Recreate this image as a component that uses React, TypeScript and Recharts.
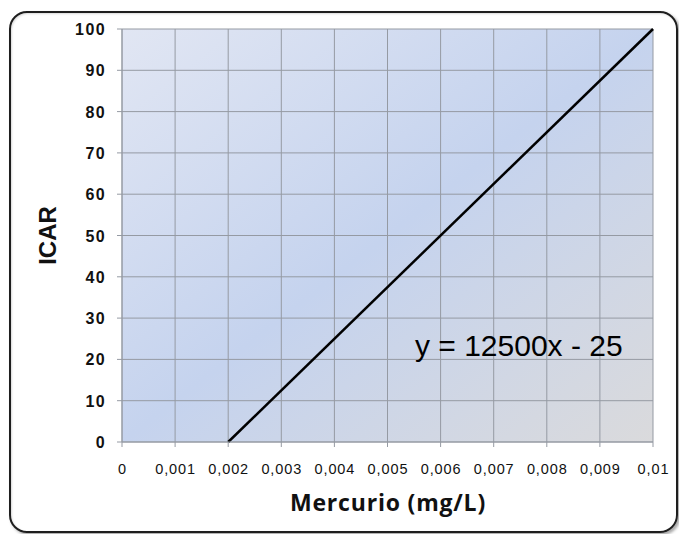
import React from 'react';
import { LineChart, Line, XAxis, YAxis, CartesianGrid } from 'recharts';

const xValues = [0.002, 0.01];
const yValues = [0, 100];
const xTicks = [0, 0.001, 0.002, 0.003, 0.004, 0.005, 0.006, 0.007, 0.008, 0.009, 0.01];
const xTickLabels = ['0', '0,001', '0,002', '0,003', '0,004', '0,005', '0,006', '0,007', '0,008', '0,009', '0,01'];
const yTicks = [0, 10, 20, 30, 40, 50, 60, 70, 80, 90, 100];
const equation = 'y = 12500x - 25';
const xTitle = 'Mercurio (mg/L)';
const yTitle = 'ICAR';

const data = xValues.map((x, i) => ({ x, y: yValues[i] }));

const fmtX = (v: number) => {
  const i = xTicks.findIndex((t) => Math.abs(t - v) < 1e-9);
  return i >= 0 ? xTickLabels[i] : String(v);
};

const XTick = (props: any) => {
  const { x, y, payload } = props;
  return (
    <text x={x + 0.5} y={y + 25} textAnchor="middle" fontSize={14.5} letterSpacing={0.9} fontFamily="Liberation Sans, Arial, sans-serif" fill="#111">
      {fmtX(payload.value)}
    </text>
  );
};

const YTick = (props: any) => {
  const { y, payload } = props;
  return (
    <text x={106} y={y + 6} textAnchor="end" fontSize={16} fontWeight="bold" letterSpacing={1.4} fontFamily="Liberation Sans, Arial, sans-serif" fill="#111">
      {String(payload.value)}
    </text>
  );
};

export default function App() {
  return (
    <div style={{ position: 'absolute', left: 0, top: 0, width: 679, height: 534, background: '#fff', overflow: 'hidden' }}>
      <div
        style={{
          position: 'absolute',
          left: 9,
          top: 11,
          width: 665,
          height: 518,
          border: '2px solid #1e1e1e',
          borderRadius: 18,
          boxShadow: '2px 2px 3px rgba(0,0,0,0.35), inset 1px 1px 2px rgba(0,0,0,0.15)',
        }}
      />
      <div style={{ position: 'absolute', left: 0, top: 0 }}>
        <LineChart width={679} height={534} data={data} margin={{ top: 29, right: 26, left: 0, bottom: 0 }}>
          <defs>
            <linearGradient id="bg" x1="0" y1="0" x2="1" y2="1">
              <stop offset="0%" stopColor="#e1e6f3" />
              <stop offset="50%" stopColor="#c5d3ee" />
              <stop offset="100%" stopColor="#dadadc" />
            </linearGradient>
          </defs>
          <CartesianGrid stroke="#959aa3" strokeWidth={1} fill="url(#bg)" fillOpacity={1} horizontalValues={yTicks} verticalValues={xTicks} />
          <XAxis
            dataKey="x"
            type="number"
            domain={[0, 0.01]}
            ticks={xTicks}
            tickFormatter={fmtX}
            height={92}
            stroke="#959aa3"
            tickSize={5}
            tick={<XTick />}
            label={() => (
              <text x={388} y={511} textAnchor="middle" fontSize={23} fontWeight="bold" letterSpacing={0.8} fontFamily="Open Sans, sans-serif" fill="#111">
                {xTitle}
              </text>
            )}
          />
          <YAxis
            dataKey="y"
            type="number"
            domain={[0, 100]}
            ticks={yTicks}
            width={122}
            stroke="#959aa3"
            tickSize={5}
            tick={<YTick />}
            label={() => {
              const cy = 235.5;
              return (
                <text x={56} y={cy} transform={`rotate(-90, 56, ${cy})`} textAnchor="middle" fontSize={24} fontWeight="bold" fontFamily="Liberation Sans, Arial, sans-serif" fill="#111">
                  {yTitle}
                </text>
              );
            }}
          />
          <Line dataKey="y" stroke="#000" strokeWidth={2.5} dot={false} isAnimationActive={false} />
        </LineChart>
      </div>
      <div
        style={{
          position: 'absolute',
          left: 415,
          top: 329,
          fontSize: 30,
          lineHeight: '34px',
          fontFamily: 'Liberation Sans, Arial, sans-serif',
          color: '#000',
          whiteSpace: 'nowrap',
        }}
      >
        {equation}
      </div>
    </div>
  );
}
